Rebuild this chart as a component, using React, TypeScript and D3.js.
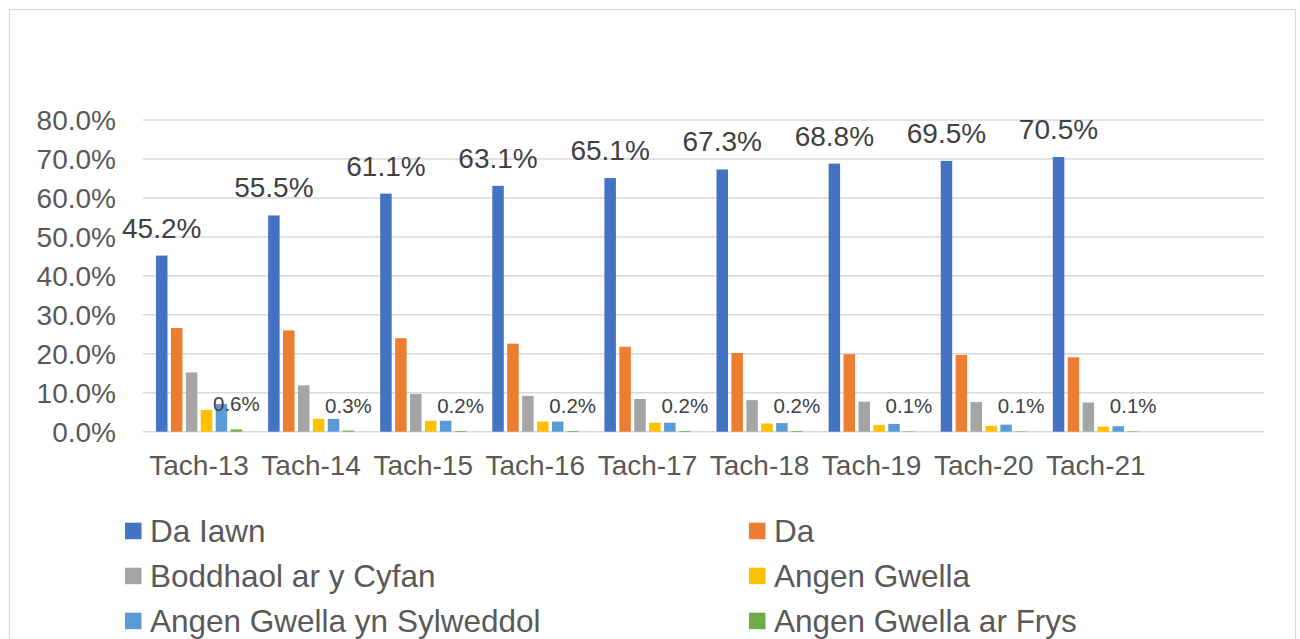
import React from "react";
import * as d3 from "d3";

const categories = ["Tach-13", "Tach-14", "Tach-15", "Tach-16", "Tach-17", "Tach-18", "Tach-19", "Tach-20", "Tach-21", ""];
const seriesNames = ["Da Iawn", "Da", "Boddhaol ar y Cyfan", "Angen Gwella", "Angen Gwella yn Sylweddol", "Angen Gwella ar Frys"];
const colors = ["#4472c4", "#ed7d31", "#a5a5a5", "#ffc000", "#5b9bd5", "#70ad47"];

const daIawn = [45.2, 55.5, 61.1, 63.1, 65.1, 67.3, 68.8, 69.5, 70.5];
const da = [26.6, 26.0, 24.0, 22.6, 21.8, 20.2, 19.9, 19.7, 19.1];
const boddhaol = [15.2, 11.9, 9.7, 9.2, 8.4, 8.1, 7.7, 7.6, 7.5];
const angenGwella = [5.6, 3.3, 2.8, 2.6, 2.3, 2.1, 1.7, 1.5, 1.3];
const angenSylweddol = [7.1, 3.3, 2.8, 2.6, 2.3, 2.2, 2.0, 1.8, 1.4];
const angenFrys = [0.6, 0.3, 0.2, 0.2, 0.2, 0.2, 0.1, 0.1, 0.1];
const yTicks = [0, 10, 20, 30, 40, 50, 60, 70, 80];

const seriesValues = [daIawn, da, boddhaol, angenGwella, angenSylweddol, angenFrys];
const labelledSeries = [0, 5];

export default function App() {
  const W = 1300, H = 639;
  const left = 143, right = 1264, top = 120, bottom = 431.7;
  const x = d3.scaleBand<string>().domain(categories).range([left, right]).paddingInner(0.232).paddingOuter(0.116);
  const x1 = d3.scaleBand<string>().domain(seriesNames).range([0, x.bandwidth()]).paddingInner(0.23);
  const y = d3.scaleLinear().domain([0, 80]).range([bottom, top]);
  const font = "'Liberation Sans', Arial, sans-serif";

  return (
    <svg width={W} height={H} style={{ position: "absolute", left: 0, top: 0, background: "#fff" }} fontFamily={font}>
      <rect x={9.5} y={9.5} width={1286} height={700} fill="#fff" stroke="#d9d9d9" strokeWidth={1.2} />
      {yTicks.map((t) => (
        <g key={t}>
          <line x1={left} x2={right} y1={y(t)} y2={y(t)} stroke="#d9d9d9" strokeWidth={1.5} />
          <text x={116} y={y(t) + 10} textAnchor="end" fontSize={28} fill="#595959">
            {t.toFixed(1)}%
          </text>
        </g>
      ))}
      {seriesValues.map((vals, si) =>
        vals.map((v, ci) => (
          <rect
            key={`${si}-${ci}`}
            x={(x(categories[ci]) ?? 0) + (x1(seriesNames[si]) ?? 0)}
            y={y(v)}
            width={x1.bandwidth()}
            height={bottom - y(v)}
            fill={colors[si]}
          />
        ))
      )}
      {labelledSeries.map((si) =>
        seriesValues[si].map((v, ci) => (
          <text
            key={`l${si}-${ci}`}
            x={(x(categories[ci]) ?? 0) + (x1(seriesNames[si]) ?? 0) + x1.bandwidth() / 2}
            y={y(v) - 18}
            textAnchor="middle"
            fontSize={si === 0 ? 28 : 20.5}
            fill="#404040"
          >
            {v.toFixed(1)}%
          </text>
        ))
      )}
      {categories.map((c) => (
        <text key={c || "blank"} x={(x(c) ?? 0) + x.bandwidth() / 2} y={475} textAnchor="middle" fontSize={28} fill="#595959">
          {c}
        </text>
      ))}
      {seriesNames.map((s, i) => {
        const col = i % 2;
        const row = Math.floor(i / 2);
        const mx = col === 0 ? 125 : 749;
        const by = 541.7 + row * 45;
        return (
          <g key={s}>
            <rect x={mx} y={by - 19} width={16.5} height={16.5} fill={colors[i]} />
            <text x={mx + 25} y={by} fontSize={31.5} fill="#595959">
              {s}
            </text>
          </g>
        );
      })}
    </svg>
  );
}
